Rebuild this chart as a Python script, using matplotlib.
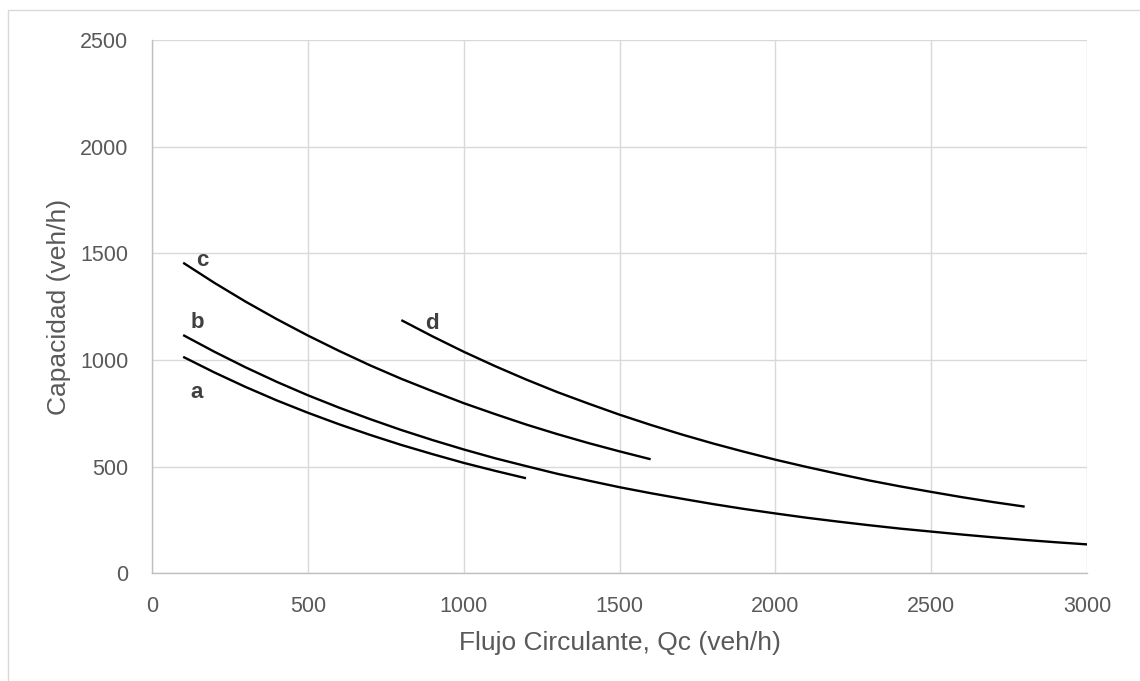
import matplotlib
matplotlib.use('Agg')
import matplotlib.pyplot as plt
import numpy as np
from matplotlib.patches import Rectangle

# values (Qc in veh/h -> capacity in veh/h)
qc_a = [100, 200, 300, 400, 500, 600, 700, 800, 900, 1000, 1100, 1200]
cap_a = [1015, 942, 874, 811, 753, 699, 649, 602, 559, 518, 481, 446]

qc_b = [100, 200, 300, 400, 500, 600, 700, 800, 900, 1000, 1100, 1200, 1300, 1400, 1500,
        1600, 1700, 1800, 1900, 2000, 2100, 2200, 2300, 2400, 2500, 2600, 2700, 2800, 2900, 3000]
cap_b = [1117, 1039, 966, 898, 835, 777, 723, 672, 625, 581, 540, 503, 467, 435, 404,
         376, 350, 325, 302, 281, 261, 243, 226, 210, 196, 182, 169, 157, 146, 136]

qc_c = [100, 200, 300, 400, 500, 600, 700, 800, 900, 1000, 1100, 1200, 1300, 1400, 1500, 1600]
cap_c = [1456, 1362, 1274, 1192, 1115, 1043, 975, 912, 854, 798, 747, 698, 653, 611, 572, 535]

qc_d = [800, 900, 1000, 1100, 1200, 1300, 1400, 1500, 1600, 1700, 1800, 1900, 2000,
        2100, 2200, 2300, 2400, 2500, 2600, 2700, 2800]
cap_d = [1187, 1111, 1039, 972, 909, 850, 796, 744, 696, 651, 609, 570, 533,
         499, 467, 436, 408, 382, 357, 334, 313]

curve_names = ['a', 'b', 'c', 'd']
# label anchor (data coords, baseline)
label_x = [142, 144, 163, 898]
label_y = [821, 1149, 1440, 1144]

x_ticks = [0, 500, 1000, 1500, 2000, 2500, 3000]
y_ticks = [0, 500, 1000, 1500, 2000, 2500]

plt.rcParams['font.family'] = ['Liberation Sans', 'DejaVu Sans']

W, H = 1140, 681
fig = plt.figure(figsize=(W / 100, H / 100), dpi=100)
ax = fig.add_axes([152 / W, 1 - 573.4 / H, 935 / W, 533.4 / H])

# light frame around the chart area
fig.patches.append(Rectangle((8 / W, -0.1), 1.2, 1 - 10 / H + 0.1,
                             transform=fig.transFigure, fill=False,
                             edgecolor='#d9d9d9', linewidth=1.0))

for qc, cap in zip([qc_a, qc_b, qc_c, qc_d], [cap_a, cap_b, cap_c, cap_d]):
    ax.plot(qc, cap, color='black', linewidth=1.7, solid_capstyle='butt', zorder=3)

for name, lx, ly in zip(curve_names, label_x, label_y):
    ax.text(lx, ly, name, ha='center', va='baseline', fontsize=16,
            fontweight='bold', color='#404040', zorder=4)

ax.set_xlim(0, 3000)
ax.set_ylim(0, 2500)
ax.set_xticks(x_ticks)
ax.set_yticks(y_ticks)
ax.grid(True, color='#d9d9d9', linewidth=1.0)
ax.set_axisbelow(True)
ax.tick_params(length=0, labelsize=15.5, labelcolor='#595959')
ax.tick_params(axis='x', pad=16)
ax.tick_params(axis='y', pad=17)

for side in ['top', 'right']:
    ax.spines[side].set_visible(False)
for side in ['left', 'bottom']:
    ax.spines[side].set_color('#bfbfbf')
    ax.spines[side].set_linewidth(1.0)

ax.set_xlabel('Flujo Circulante, Qc (veh/h)', fontsize=19, color='#595959')
ax.set_ylabel('Capacidad (veh/h)', fontsize=19, color='#595959')
ax.xaxis.set_label_coords(0.5, -0.108)
ax.yaxis.set_label_coords(-0.0995, 0.5)
ax.yaxis.label.set_verticalalignment('center')

plt.savefig('out.png', dpi=100)
